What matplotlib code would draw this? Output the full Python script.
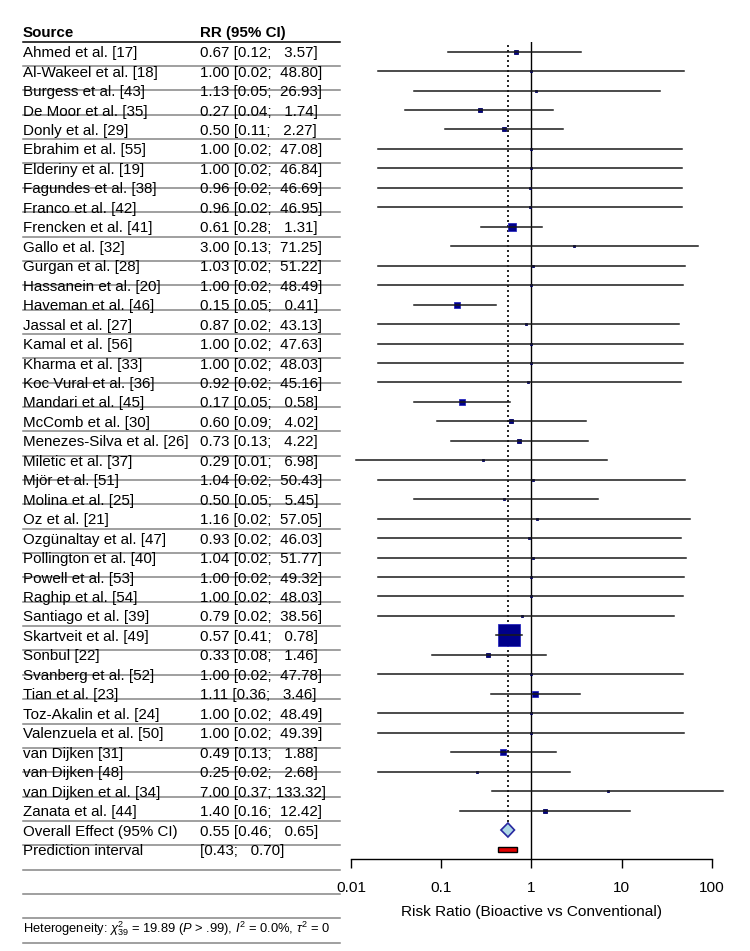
import numpy as np
import matplotlib.pyplot as plt
from matplotlib import transforms
from matplotlib.patches import Polygon, Rectangle
from matplotlib.lines import Line2D

plt.rcParams['font.family'] = ['Liberation Sans', 'DejaVu Sans']
plt.rcParams['mathtext.fontset'] = 'custom'
plt.rcParams['mathtext.rm'] = 'Liberation Sans'
plt.rcParams['mathtext.it'] = 'Liberation Sans:italic'
plt.rcParams['mathtext.bf'] = 'Liberation Sans:bold'

# Study data
studies = ["Ahmed et al. [17]", "Al-Wakeel et al. [18]", "Burgess et al. [43]",
           "De Moor et al. [35]", "Donly et al. [29]", "Ebrahim et al. [55]",
           "Elderiny et al. [19]", "Fagundes et al. [38]", "Franco et al. [42]",
           "Frencken et al. [41]", "Gallo et al. [32]", "Gurgan et al. [28]",
           "Hassanein et al. [20]", "Haveman et al. [46]", "Jassal et al. [27]",
           "Kamal et al. [56]", "Kharma et al. [33]", "Koc Vural et al. [36]",
           "Mandari et al. [45]", "McComb et al. [30]", "Menezes-Silva et al. [26]",
           "Miletic et al. [37]", "Mjör et al. [51]", "Molina et al. [25]",
           "Oz et al. [21]", "Ozgünaltay et al. [47]", "Pollington et al. [40]",
           "Powell et al. [53]", "Raghip et al. [54]", "Santiago et al. [39]",
           "Skartveit et al. [49]", "Sonbul [22]", "Svanberg et al. [52]",
           "Tian et al. [23]", "Toz-Akalin et al. [24]", "Valenzuela et al. [50]",
           "van Dijken [31]", "van Dijken [48]", "van Dijken et al. [34]",
           "Zanata et al. [44]"]
rr = [0.67, 1.00, 1.13, 0.27, 0.50, 1.00, 1.00, 0.96, 0.96, 0.61,
      3.00, 1.03, 1.00, 0.15, 0.87, 1.00, 1.00, 0.92, 0.17, 0.60,
      0.73, 0.29, 1.04, 0.50, 1.16, 0.93, 1.04, 1.00, 1.00, 0.79,
      0.57, 0.33, 1.00, 1.11, 1.00, 1.00, 0.49, 0.25, 7.00, 1.40]
ci_low = [0.12, 0.02, 0.05, 0.04, 0.11, 0.02, 0.02, 0.02, 0.02, 0.28,
          0.13, 0.02, 0.02, 0.05, 0.02, 0.02, 0.02, 0.02, 0.05, 0.09,
          0.13, 0.0115, 0.02, 0.05, 0.02, 0.02, 0.02, 0.02, 0.02, 0.02,
          0.41, 0.08, 0.02, 0.36, 0.02, 0.02, 0.13, 0.02, 0.37, 0.16]
ci_high = [3.57, 48.80, 26.93, 1.74, 2.27, 47.08, 46.84, 46.69, 46.95, 1.31,
           71.25, 51.22, 48.49, 0.41, 43.13, 47.63, 48.03, 45.16, 0.58, 4.02,
           4.22, 6.98, 50.43, 5.45, 57.05, 46.03, 51.77, 49.32, 48.03, 38.56,
           0.78, 1.46, 47.78, 3.46, 48.49, 49.39, 1.88, 2.68, 133.32, 12.42]
# approximate weights (%) judged from square sizes
weights = [1.9, 0.35, 0.5, 1.5, 2.3, 0.35, 0.35, 0.35, 0.35, 9.0,
           0.5, 0.35, 0.35, 4.8, 0.35, 0.35, 0.35, 0.35, 3.6, 1.5,
           1.8, 0.5, 0.35, 1.0, 0.35, 0.35, 0.35, 0.35, 0.35, 0.35,
           51.8, 2.5, 0.35, 4.2, 0.35, 0.35, 3.0, 0.9, 0.6, 1.1]

overall_rr, overall_low, overall_high = 0.55, 0.46, 0.65
pred_low, pred_high = 0.43, 0.70
ticks = [0.01, 0.1, 1, 10, 100]
tick_labels = ["0.01", "0.1", "1", "10", "100"]

W, H = 750, 951
fig = plt.figure(figsize=(W / 100, H / 100), dpi=100)


def fx(px):
    return px / W


def fy(py):
    return 1 - py / H


# layout in pixels
row0, row_h = 51.6, 19.46
ax_top, ax_bot = 41.7, 859.0
ax_left, ax_right = 351.0, 711.7
ax = fig.add_axes([fx(ax_left), fy(ax_bot), (ax_right - ax_left) / W, (ax_bot - ax_top) / H])
ax.set_xscale('log')
ax.set_xlim(0.01, 100)
ax.set_ylim((ax_bot - row0) / row_h, (ax_top - row0) / row_h)

n = len(studies)
fs = 10.9
fs_axis = 11.1

# reference lines
ax.axvline(1, color='black', lw=1.0, zorder=1)
ax.plot([overall_rr, overall_rr], [-0.35, n - 0.35], color='black', lw=1.2,
        linestyle=(0, (1.2, 1.8)), zorder=1)

# study squares and CI lines
for i in range(n):
    side_px = max(2.92 * np.sqrt(weights[i]), 2.4)
    edge = '#2a2abf' if side_px > 5 else '#000060'
    ax.plot(rr[i], i, marker='s', markersize=side_px * 0.72, markerfacecolor='#00008B',
            markeredgecolor=edge, markeredgewidth=0.6, linestyle='none',
            zorder=2, clip_on=False)
    ax.plot([ci_low[i], ci_high[i]], [i, i], color='#1a1a1a', lw=1.1,
            zorder=3, clip_on=False)

# overall diamond
ax.add_patch(Polygon([(overall_low, n), (overall_rr, n - 0.36),
                      (overall_high, n), (overall_rr, n + 0.36)],
                     closed=True, facecolor='#ADD8E6', edgecolor='#2828a0',
                     lw=1.2, zorder=4))
# prediction interval bar
ax.add_patch(Rectangle((pred_low, n + 1 - 0.11), pred_high - pred_low, 0.22,
                       facecolor='#e00000', edgecolor='black', lw=1.0, zorder=4))

# axes styling
for s in ['top', 'right', 'left']:
    ax.spines[s].set_visible(False)
ax.spines['bottom'].set_linewidth(1.0)
ax.set_xticks(ticks)
ax.set_xticklabels(tick_labels)
ax.xaxis.set_minor_locator(plt.NullLocator())
ax.set_yticks([])
ax.tick_params(axis='x', length=6.7, width=1.0, labelsize=fs_axis, pad=9)
ax.set_xlabel("Risk Ratio (Bioactive vs Conventional)", fontsize=fs_axis, labelpad=7)
ax.patch.set_alpha(0)

# table text
trans = transforms.blended_transform_factory(fig.transFigure, ax.transData)
dy = 0.08
fig.text(fx(23), -0.96, "Source", transform=trans, fontsize=fs, fontweight='bold', va='center')
fig.text(fx(200), -0.96, "RR (95% CI)", transform=trans, fontsize=fs, fontweight='bold', va='center')
for i in range(n):
    fig.text(fx(23), i + dy, studies[i], transform=trans, fontsize=fs, va='center')
    fig.text(fx(200), i + dy, f"{rr[i]:.2f} [{ci_low[i]:.2f}; {ci_high[i]:6.2f}]",
             transform=trans, fontsize=fs, va='center')
fig.text(fx(23), n + dy, "Overall Effect (95% CI)", transform=trans, fontsize=fs, va='center')
fig.text(fx(200), n + dy, f"{overall_rr:.2f} [{overall_low:.2f}; {overall_high:6.2f}]",
         transform=trans, fontsize=fs, va='center')
fig.text(fx(23), n + 1 + dy, "Prediction interval", transform=trans, fontsize=fs, va='center')
fig.text(fx(200), n + 1 + dy, f"[{pred_low:.2f}; {pred_high:6.2f}]",
         transform=trans, fontsize=fs, va='center')

# table rules
for k in range(38):
    y = 41.7 + 24.35 * k
    fig.add_artist(Line2D([fx(23), fx(340)], [fy(y), fy(y)],
                          color='black' if k == 0 else '#858585', lw=1.1))

fig.text(fx(23), fy(932.5),
         r"Heterogeneity: $\chi^2_{39}$ = 19.89 ($\mathit{P}$ > .99), "
         r"$\mathit{I}^2$ = 0.0%, $\tau^2$ = 0",
         fontsize=9.3, va='baseline')

fig.savefig("out.png", dpi=100)
